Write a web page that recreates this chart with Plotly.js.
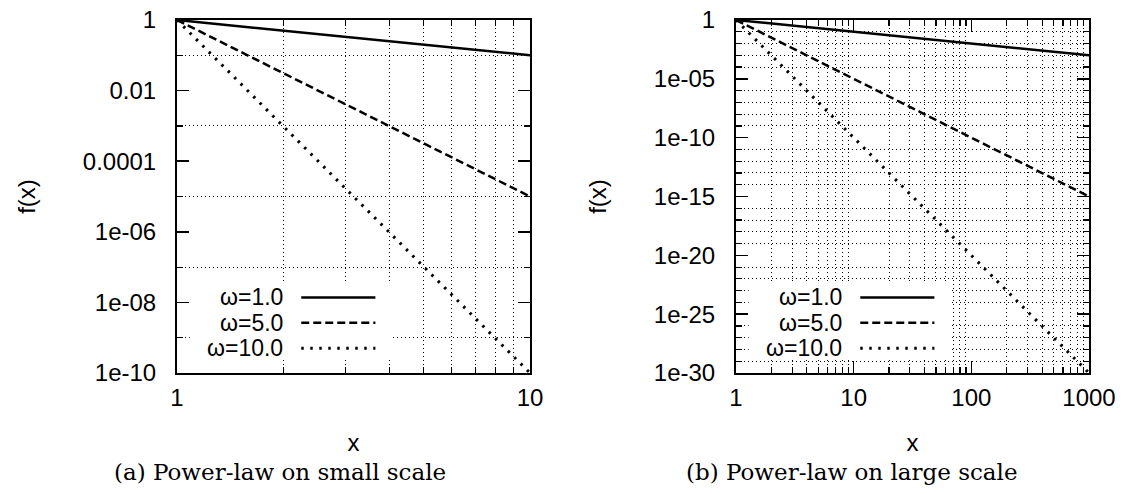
<!DOCTYPE html>
<html>
<head>
<meta charset="utf-8">
<script src="https://cdn.plot.ly/plotly-3.0.1.min.js"></script>
<style>html,body{margin:0;padding:0;background:#fff;}#chart{width:1130px;height:494px;}</style>
</head>
<body>
<div id="chart"></div>
<script>
// ---- data ----
const seriesNames = ['ω=1.0', 'ω=5.0', 'ω=10.0'];
const seriesDash = ['solid', '8px,4px', '2.5px,6.5px'];
const seriesWidth = [2.5, 2.5, 3];

// (a) small scale
const xSmall = [1, 10];
const ySmallW1 = [1, 0.1];
const ySmallW5 = [1, 1e-5];
const ySmallW10 = [1, 1e-10];

// (b) large scale
const xLarge = [1, 1000];
const yLargeW1 = [1, 1e-3];
const yLargeW5 = [1, 1e-15];
const yLargeW10 = [1, 1e-30];

// tick labels
const xSmallTickVals = [1, 10];
const xSmallTickText = ['1', '10'];
const ySmallTickVals = [1, 1e-2, 1e-4, 1e-6, 1e-8, 1e-10];
const ySmallTickText = ['1', '0.01', '0.0001', '1e-06', '1e-08', '1e-10'];
const xLargeTickVals = [1, 10, 100, 1000];
const xLargeTickText = ['1', '10', '100', '1000'];
const yLargeTickVals = [1, 1e-5, 1e-10, 1e-15, 1e-20, 1e-25, 1e-30];
const yLargeTickText = ['1', '1e-05', '1e-10', '1e-15', '1e-20', '1e-25', '1e-30'];

const captions = ['(a) Power-law on small scale', '(b) Power-law on large scale'];
const xTitle = 'x';
const yTitle = 'f(x)';

// ---- minor tick positions (grid) ----
function minorLog(decFrom, decTo) { // 2..9 multiples within decades
  const out = [];
  for (let d = decFrom; d < decTo; d++) for (let m = 2; m <= 9; m++) out.push(m * Math.pow(10, d));
  return out;
}
function minorDecades(decFrom, decTo, step) { // decades that are not labeled
  const out = [];
  for (let d = decFrom; d <= decTo; d++) if (d % step !== 0) out.push(Math.pow(10, d));
  return out;
}

const FONT = 'Liberation Sans, Arial, sans-serif';
const tickFont = {family: FONT, size: 24, color: '#000'};
const titleFont = {family: FONT, size: 24, color: '#000'};

function axisBase(extra) {
  return Object.assign({
    type: 'log',
    showline: true, linewidth: 2, linecolor: '#000',
    mirror: 'allticks',
    ticks: 'inside', ticklen: 12, tickwidth: 1.5, tickcolor: '#000',
    tickmode: 'array',
    showgrid: false, zeroline: false,
    tickfont: tickFont,
    layer: 'above traces',
    fixedrange: true
  }, extra);
}
function minorCfg(vals) {
  return {tickmode: 'array', tickvals: vals, ticks: 'inside', ticklen: 6, tickwidth: 1.2, tickcolor: '#000',
          showgrid: true, gridcolor: '#000', gridwidth: 1, griddash: '1px,3px'};
}

const L0 = 177 / 1130, L1 = 530 / 1130, R0 = 736 / 1130, R1 = 1089 / 1130;
const Y0 = 1 - 373 / 494, Y1 = 1 - 20 / 494;

const smallY = [ySmallW1, ySmallW5, ySmallW10];
const largeY = [yLargeW1, yLargeW5, yLargeW10];
const traces = [];
seriesNames.forEach((n, i) => {
  traces.push({x: xSmall, y: smallY[i], mode: 'lines', name: n, xaxis: 'x', yaxis: 'y',
    line: {color: '#000', width: seriesWidth[i], dash: seriesDash[i]}, showlegend: false, hoverinfo: 'skip'});
});
seriesNames.forEach((n, i) => {
  traces.push({x: xLarge, y: largeY[i], mode: 'lines', name: n, xaxis: 'x2', yaxis: 'y2',
    line: {color: '#000', width: seriesWidth[i], dash: seriesDash[i]}, showlegend: false, hoverinfo: 'skip'});
});

// legend (gnuplot style: text right-aligned, sample to the right)
const shapes = [];
const annotations = [];
[['x', 'y'], ['x2', 'y2']].forEach(([xa, ya]) => {
  shapes.push({type: 'rect', xref: xa + ' domain', yref: ya + ' domain', x0: 0.036, x1: 0.607, y0: 0.04, y1: 0.255,
    fillcolor: '#fff', line: {width: 0}, layer: 'above'});
  seriesNames.forEach((n, i) => {
    const yy = 0.214 - i * 0.0718;
    shapes.push({type: 'line', xref: xa + ' domain', yref: ya + ' domain', x0: 0.352, x1: 0.562, y0: yy, y1: yy,
      line: {color: '#000', width: seriesWidth[i], dash: seriesDash[i]}, layer: 'above'});
    annotations.push({xref: xa + ' domain', yref: ya + ' domain', x: 0.306, y: yy, xanchor: 'right', yanchor: 'middle',
      text: n, showarrow: false, font: {family: FONT, size: 23, color: '#000'}});
  });
});
// captions
const capX = [280 / 1130, 852 / 1130];
captions.forEach((c, i) => {
  annotations.push({xref: 'paper', yref: 'paper', x: capX[i], y: 1 - 472 / 494, xanchor: 'center', yanchor: 'middle',
    text: c, showarrow: false, font: {family: 'DejaVu Serif, serif', size: 23, color: '#000'}});
});

const layout = {
  width: 1130, height: 494,
  margin: {l: 0, r: 0, t: 0, b: 0},
  paper_bgcolor: '#fff', plot_bgcolor: '#fff',
  showlegend: false,
  xaxis: axisBase({domain: [L0, L1], anchor: 'y', range: [0, 1], tickvals: xSmallTickVals, ticktext: xSmallTickText,
    minor: minorCfg(minorLog(0, 1)), ticklabelstandoff: 2,
    title: {text: xTitle, font: titleFont, standoff: 24}}),
  yaxis: axisBase({domain: [Y0, Y1], anchor: 'x', range: [-10, 0], tickvals: ySmallTickVals, ticktext: ySmallTickText,
    minor: minorCfg(minorDecades(-10, 0, 2)), ticklabelstandoff: 14,
    title: {text: yTitle, font: titleFont, standoff: 40}}),
  xaxis2: axisBase({domain: [R0, R1], anchor: 'y2', range: [0, 3], tickvals: xLargeTickVals, ticktext: xLargeTickText,
    minor: minorCfg(minorLog(0, 3)), ticklabelstandoff: 2,
    title: {text: xTitle, font: titleFont, standoff: 24}}),
  yaxis2: axisBase({domain: [Y0, Y1], anchor: 'x2', range: [-30, 0], tickvals: yLargeTickVals, ticktext: yLargeTickText,
    minor: minorCfg(minorDecades(-30, 0, 5)), ticklabelstandoff: 14,
    title: {text: yTitle, font: titleFont, standoff: 40}}),
  shapes: shapes,
  annotations: annotations
};

Plotly.newPlot('chart', traces, layout, {displayModeBar: false, staticPlot: true});
</script>
</body>
</html>
